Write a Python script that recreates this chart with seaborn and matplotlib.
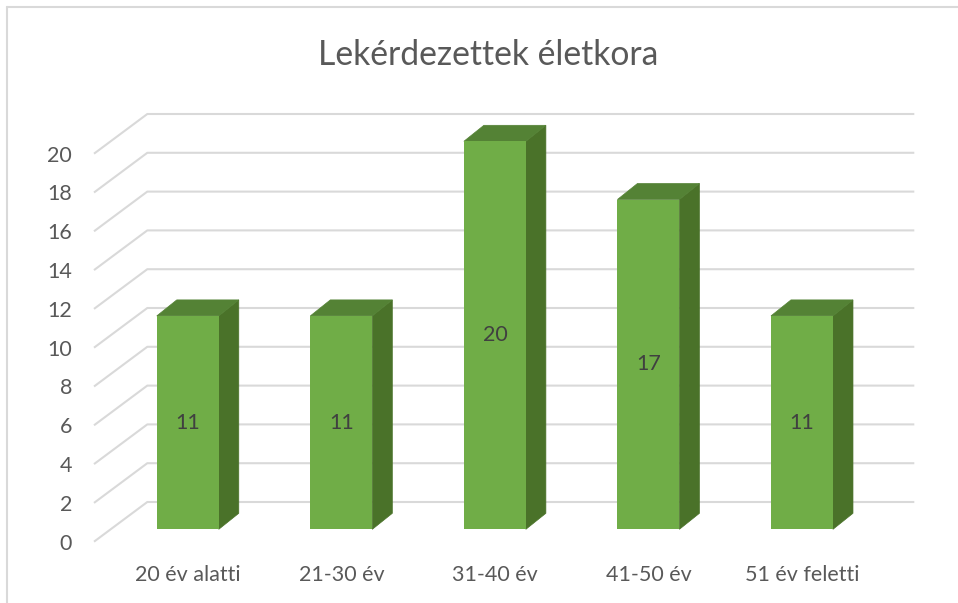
import numpy as np
import pandas as pd
import seaborn as sns
import matplotlib
matplotlib.use("Agg")
import matplotlib.pyplot as plt
from matplotlib.patches import Polygon
from matplotlib.lines import Line2D

# ---- data ----
categories = ["20 év alatti", "21-30 év", "31-40 év", "41-50 év", "51 év feletti"]
values = [11, 11, 20, 17, 11]
yticks = [0, 2, 4, 6, 8, 10, 12, 14, 16, 18, 20]
title = "Lekérdezettek életkora"

sns.set_theme(style="white")
plt.rcParams["font.family"] = ["Lato", "DejaVu Sans"]

W, H = 958, 603
fig = plt.figure(figsize=(W / 100, H / 100), dpi=100)

# layout in pixels
L_px, S_px = 111.0, 153.55      # left edge of axes, spacing per category
base_px, unit_px = 529.3, 19.4  # y of value 0, pixels per unit
front_drop_px = 12.4            # front edge of floor below bar base
off_front = -front_drop_px / unit_px
off_back = 27.3 / unit_px
ymin = off_front
ax = fig.add_axes([L_px / W, (H - base_px - front_drop_px) / H,
                   5 * S_px / W, (20 - ymin) * unit_px / H])

front = "#70AD47"
side = "#4A7229"
top = "#548235"
grid_c = "#D9D9D9"
txt = "#595959"

df = pd.DataFrame({"cat": categories, "val": values})
sns.barplot(data=df, x="cat", y="val", color=front, saturation=1,
            width=62 / S_px, ax=ax, zorder=3, linewidth=0)

# 3D depth offsets in data units
dx = 20 / S_px
dy = 16 / unit_px

# gridlines (front slanted + back wall)
x_front = -0.5 - 17 / S_px
x_back = -0.5 + 36.3 / S_px
x_right = -0.5 + 803.3 / S_px
for v in yticks:
    ax.plot([x_front, x_back, x_right], [v + off_front, v + off_back, v + off_back],
            color=grid_c, lw=1.5, zorder=1, clip_on=False, solid_capstyle="butt")

# 3D faces of bars
for p, v in zip(ax.patches, values):
    x0 = p.get_x()
    w = p.get_width()
    h = p.get_height()
    x1 = x0 + w
    side_poly = Polygon([(x1, 0), (x1, h), (x1 + dx, h + dy), (x1 + dx, dy)],
                        closed=True, facecolor=side, edgecolor=side, lw=0.5,
                        zorder=2.9, clip_on=False)
    top_poly = Polygon([(x0, h), (x1, h), (x1 + dx, h + dy), (x0 + dx, h + dy)],
                       closed=True, facecolor=top, edgecolor=top, lw=0.5,
                       zorder=2.9, clip_on=False)
    ax.add_patch(side_poly)
    ax.add_patch(top_poly)
    p.set_clip_on(False)
    ax.text(x0 + w / 2, h / 2, f"{v}", ha="center", va="center",
            fontsize=15.5, color="#404040", zorder=5)

# axes styling
for s in ax.spines.values():
    s.set_visible(False)
ax.set_xlabel("")
ax.set_ylabel("")
ax.set_yticks([t + off_front for t in yticks], labels=[str(t) for t in yticks])
ax.tick_params(axis="y", length=0, pad=28, labelsize=15.5, labelcolor=txt)
ax.set_xticks(range(len(categories)), labels=categories)
ax.tick_params(axis="x", length=0, pad=17, labelsize=15.5, labelcolor=txt)
ax.set_xlim(-0.5, 4.5)
ax.set_ylim(ymin, 20)
ax.set_facecolor("none")
ax.grid(False)

# title
fig.text(488 / W, 1 - 55 / H, title, ha="center", va="center",
         fontsize=24.2, color=txt)

# chart border (top and left visible)
fig.add_artist(Line2D([7 / W, 7 / W], [0, 1 - 7 / H], color=grid_c, lw=1.5,
                      transform=fig.transFigure))
fig.add_artist(Line2D([7 / W, 1], [1 - 7 / H, 1 - 7 / H], color=grid_c, lw=1.5,
                      transform=fig.transFigure))

fig.savefig("out.png", dpi=100, facecolor="white")
